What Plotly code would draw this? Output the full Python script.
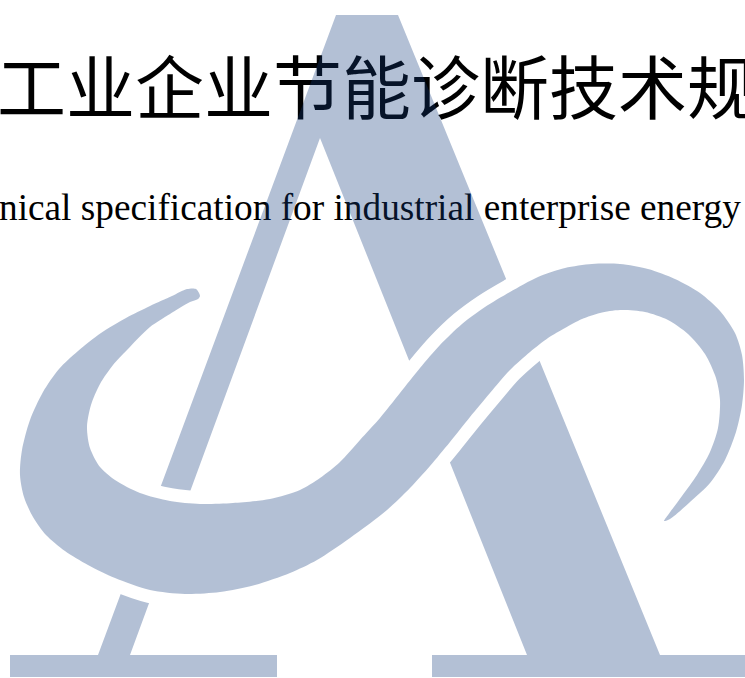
import plotly.graph_objects as go

# ---- text content ----
TITLE_ZH = "工业企业节能诊断技术规"
TITLE_EN = "nical specification for industrial enterprise energy"

# ---- logo outline: letter "A" with its two base serifs (pixel units) ----
A_X = [10, 10, 98, 336, 398, 660, 745, 745, 432, 432, 527, 320, 130, 277, 277, 10]
A_Y = [677, 655, 655, 15, 15, 655, 655, 677, 677, 655, 655, 138, 655, 655, 677, 677]

# ---- logo outline: the swoosh band ----
SWOOSH_X = [200, 196, 187, 172, 150, 126, 101, 78, 59, 43, 30, 22, 20, 24, 33, 46, 65, 88,
            115, 150, 185, 220, 255, 290, 317, 350, 387, 410, 430, 450, 470, 490, 510, 530,
            548, 565, 582, 600, 620, 645, 668, 688, 705, 716, 720, 718, 710, 697, 682, 668,
            664, 670, 690, 710, 725, 736, 742, 744, 742, 735, 720, 700, 675, 648, 620, 592,
            565, 538, 510, 485, 462, 440, 420, 400, 380, 360, 340, 320, 300, 270, 233, 200,
            170, 140, 115, 100, 90, 87, 91, 100, 113, 127, 150, 170, 190, 198, 200]
SWOOSH_Y = [296, 289, 289, 296, 306, 318, 333, 351, 369, 392, 420, 450, 475, 497, 517, 535, 551, 565,
            578, 590, 594, 592, 585, 573, 560, 538, 510, 488, 466, 442, 417, 393, 370, 352,
            338, 328, 319, 313, 310, 312, 320, 334, 354, 378, 400, 428, 452, 475, 496, 515,
            521, 519, 502, 483, 460, 432, 405, 380, 355, 333, 311, 293, 279, 269, 264, 264,
            268, 277, 292, 307, 324, 345, 368, 393, 418, 440, 462, 478, 490, 499, 503, 504,
            501, 493, 480, 467, 448, 427, 405, 384, 365, 350, 327, 314, 302, 299, 296]

LOGO_COLOR = "rgba(20,58,124,0.32)"

fig = go.Figure()

# text first (the translucent logo sits on top of it)
fig.add_trace(go.Scatter(x=[-3], y=[97], mode="text", text=[TITLE_ZH],
                         textposition="middle right", cliponaxis=True,
                         textfont=dict(family="Noto Sans CJK SC", size=69, color="#000000"),
                         hoverinfo="skip"))
fig.add_trace(go.Scatter(x=[-1], y=[211], mode="text", text=[TITLE_EN],
                         textposition="middle right", cliponaxis=True,
                         textfont=dict(family="Liberation Serif", size=37.3, color="#000000"),
                         hoverinfo="skip"))

# letter A with base serifs
fig.add_trace(go.Scatter(x=A_X, y=A_Y, mode="lines", fill="toself", fillcolor=LOGO_COLOR,
                         line=dict(width=0, color="rgba(0,0,0,0)"), hoverinfo="skip"))
# white halo around the swoosh (creates the gaps where it crosses the A)
fig.add_trace(go.Scatter(x=SWOOSH_X, y=SWOOSH_Y, mode="lines", fill="toself", fillcolor="#ffffff",
                         line=dict(width=26, color="#ffffff", shape="spline", smoothing=0.8),
                         hoverinfo="skip"))
# swoosh
fig.add_trace(go.Scatter(x=SWOOSH_X, y=SWOOSH_Y, mode="lines", fill="toself", fillcolor=LOGO_COLOR,
                         line=dict(width=0, color="rgba(0,0,0,0)", shape="spline", smoothing=0.8),
                         hoverinfo="skip"))

fig.update_layout(
    width=745, height=678,
    margin=dict(l=0, r=0, t=0, b=0),
    paper_bgcolor="#ffffff", plot_bgcolor="#ffffff",
    showlegend=False,
    xaxis=dict(range=[0, 745], visible=False, fixedrange=True),
    yaxis=dict(range=[678, 0], visible=False, fixedrange=True),
)

# remove the default page margin so the figure fills the window exactly
fig.write_html("out.html", config={"displayModeBar": False},
               post_script="document.body.style.margin='0';")
